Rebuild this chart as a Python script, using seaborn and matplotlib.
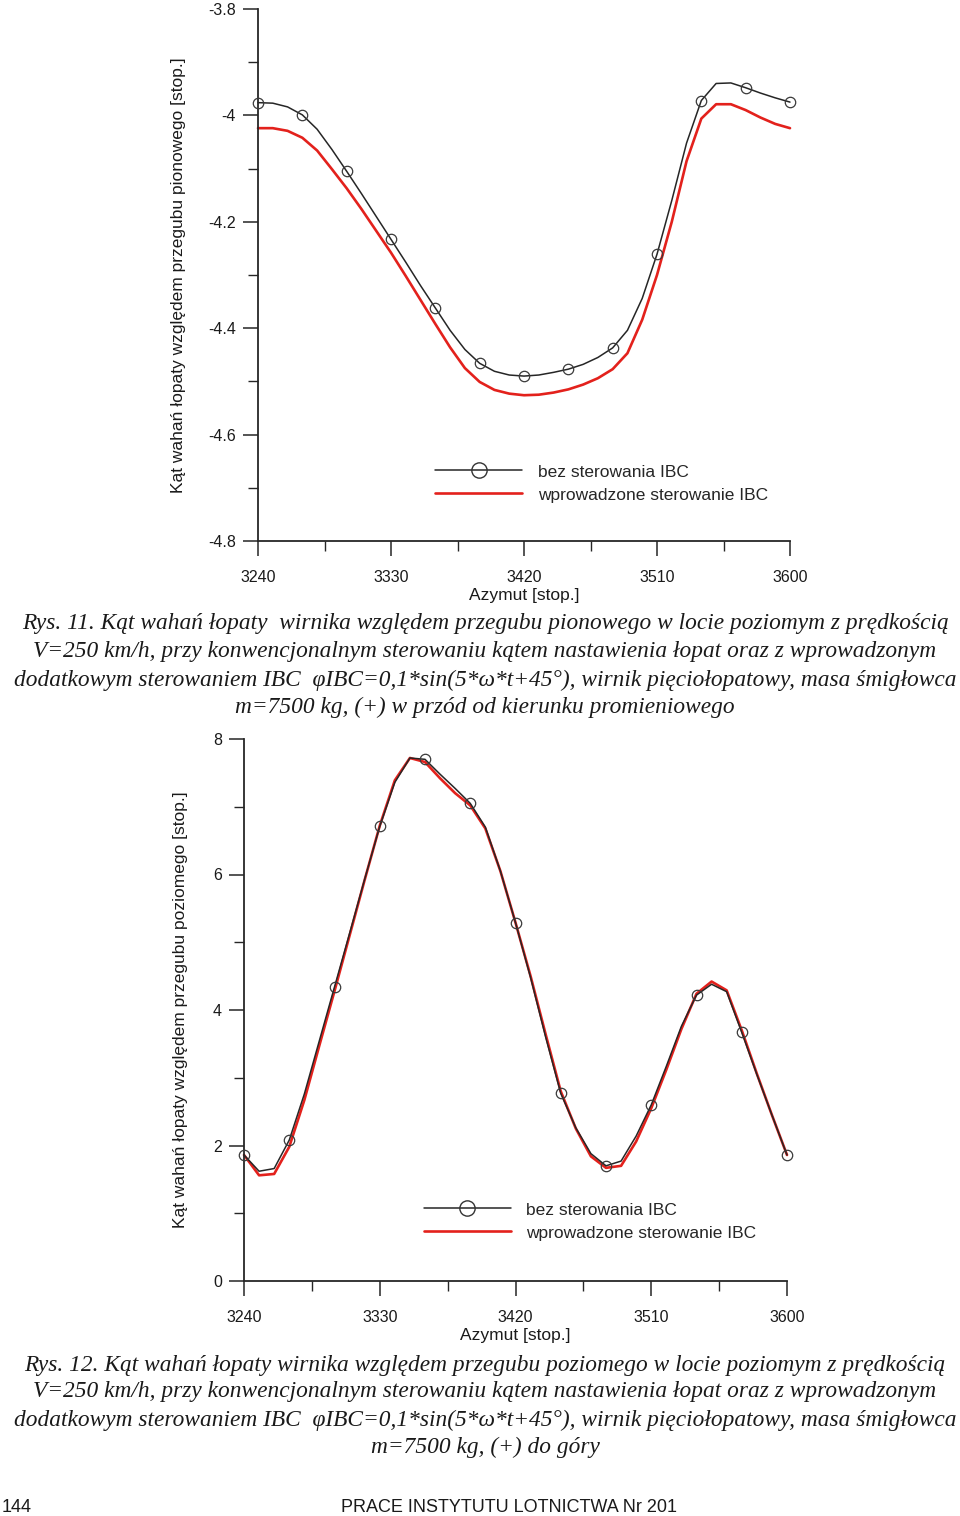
import matplotlib
matplotlib.use("Agg")
import matplotlib.pyplot as plt
from matplotlib.lines import Line2D
from matplotlib.ticker import MultipleLocator, FuncFormatter
import seaborn as sns
import pandas as pd

# ---------------- data ----------------
azimuth = list(range(3240, 3601, 10))

# Fig. 11 - lead-lag angle (vertical hinge)
lag_no_ibc = [-3.976, -3.977, -3.984, -3.999, -4.026, -4.064, -4.105, -4.147, -4.190, -4.233,
              -4.276, -4.320, -4.362, -4.404, -4.440, -4.466, -4.481, -4.488, -4.490, -4.488,
              -4.483, -4.477, -4.468, -4.455, -4.437, -4.404, -4.344, -4.261, -4.160, -4.052,
              -3.972, -3.940, -3.939, -3.948, -3.958, -3.967, -3.975]
lag_ibc = [-4.024, -4.024, -4.029, -4.042, -4.066, -4.101, -4.137, -4.176, -4.217, -4.258,
           -4.302, -4.347, -4.392, -4.436, -4.475, -4.501, -4.516, -4.523, -4.526, -4.525,
           -4.521, -4.515, -4.506, -4.494, -4.477, -4.447, -4.384, -4.300, -4.200, -4.086,
           -4.006, -3.979, -3.979, -3.990, -4.004, -4.016, -4.024]

# Fig. 12 - flapping angle (horizontal hinge)
flap_no_ibc = [1.86, 1.62, 1.66, 2.08, 2.76, 3.55, 4.34, 5.13, 5.93, 6.71,
               7.36, 7.72, 7.70, 7.48, 7.27, 7.05, 6.70, 6.05, 5.29, 4.48,
               3.60, 2.77, 2.26, 1.88, 1.70, 1.77, 2.14, 2.60, 3.17, 3.76,
               4.22, 4.38, 4.27, 3.67, 3.05, 2.45, 1.86]
flap_ibc = [1.86, 1.56, 1.58, 1.98, 2.67, 3.48, 4.28, 5.10, 5.92, 6.72,
            7.39, 7.72, 7.66, 7.42, 7.20, 7.02, 6.68, 6.05, 5.29, 4.50,
            3.64, 2.80, 2.25, 1.84, 1.67, 1.70, 2.06, 2.55, 3.12, 3.72,
            4.24, 4.42, 4.29, 3.70, 3.06, 2.45, 1.86]

xticks = [3240, 3330, 3420, 3510, 3600]
yticks_top = [-3.8, -4.0, -4.2, -4.4, -4.6, -4.8]
yticks_bot = [0, 2, 4, 6, 8]

legend_labels = ["bez sterowania IBC", "wprowadzone sterowanie IBC"]
xlabel = "Azymut [stop.]"
ylabel_top = "Kąt wahań łopaty względem przegubu pionowego [stop.]"
ylabel_bot = "Kąt wahań łopaty względem przegubu poziomego [stop.]"

caption1 = [
    "Rys. 11. Kąt wahań łopaty  wirnika względem przegubu pionowego w locie poziomym z prędkością",
    "V=250 km/h, przy konwencjonalnym sterowaniu kątem nastawienia łopat oraz z wprowadzonym",
    "dodatkowym sterowaniem IBC  φIBC=0,1*sin(5*ω*t+45°), wirnik pięciołopatowy, masa śmigłowca",
    "m=7500 kg, (+) w przód od kierunku promieniowego",
]
caption2 = [
    "Rys. 12. Kąt wahań łopaty wirnika względem przegubu poziomego w locie poziomym z prędkością",
    "V=250 km/h, przy konwencjonalnym sterowaniu kątem nastawienia łopat oraz z wprowadzonym",
    "dodatkowym sterowaniem IBC  φIBC=0,1*sin(5*ω*t+45°), wirnik pięciołopatowy, masa śmigłowca",
    "m=7500 kg, (+) do góry",
]
footer_page = "144"
footer_title = "PRACE INSTYTUTU LOTNICTWA Nr 201"

# ---------------- style ----------------
sns.set_theme(style="ticks")
plt.rcParams["font.family"] = ["Liberation Sans", "DejaVu Sans"]
plt.rcParams["axes.unicode_minus"] = False

W, H = 960, 1516
fig = plt.figure(figsize=(W / 100, H / 100), dpi=100)
fig.patch.set_facecolor("white")

BLACK = "#262626"
RED = "#e3211c"
TXT = "#1a1a1a"


def px_axes(x0, x1, ytop, ybot):
    return fig.add_axes([x0 / W, 1 - ybot / H, (x1 - x0) / W, (ybot - ytop) / H])


def style_axes(ax, ymin, ymax, yticks, yminor, ylabel, ylab_x, xlab_y, leg_xy):
    ax.set_xlim(3240, 3600)
    ax.set_ylim(ymin, ymax)
    ax.set_xticks(xticks)
    ax.set_yticks(yticks)
    ax.xaxis.set_minor_locator(MultipleLocator(45))
    ax.yaxis.set_minor_locator(MultipleLocator(yminor))
    ax.yaxis.set_major_formatter(FuncFormatter(lambda v, p: f"{v:g}"))
    for s in ["top", "right"]:
        ax.spines[s].set_visible(False)
    for s in ["left", "bottom"]:
        ax.spines[s].set_color(BLACK)
        ax.spines[s].set_linewidth(1.3)
    ax.tick_params(which="major", direction="out", length=11, width=1.1,
                   color=BLACK, labelsize=11.5, labelcolor=TXT)
    ax.tick_params(axis="x", which="major", pad=10)
    ax.tick_params(axis="y", which="major", pad=5)
    ax.tick_params(which="minor", direction="out", length=7, width=1.0, color=BLACK)
    ax.set_xlabel(xlabel, fontsize=12.5, color=TXT)
    ax.set_ylabel(ylabel, fontsize=12.5, color=TXT)
    ax.yaxis.set_label_coords(ylab_x, 0.5)
    ax.xaxis.set_label_coords(0.5, xlab_y)
    ax.set_facecolor("white")
    handles = [
        Line2D([], [], color=BLACK, lw=1.1, marker="o", mfc="none", mec="#333333",
               mew=1.0, ms=11),
        Line2D([], [], color=RED, lw=1.9),
    ]
    ax.legend(handles, legend_labels, loc="upper left", bbox_to_anchor=leg_xy,
              frameon=False, fontsize=12.5, handlelength=5.0, handletextpad=0.9,
              labelspacing=0.45, borderpad=0, borderaxespad=0)


def draw(ax, y_black, y_red):
    df = pd.DataFrame({"az": azimuth, "black": y_black, "red": y_red})
    sns.lineplot(data=df, x="az", y="red", ax=ax, color=RED, lw=1.9,
                 estimator=None, sort=False, clip_on=False, zorder=2)
    sns.lineplot(data=df, x="az", y="black", ax=ax, color=BLACK, lw=1.1,
                 estimator=None, sort=False, marker="o", markevery=3, ms=7.5,
                 mfc="none", mec="#3a3a3a", mew=0.9, clip_on=False, zorder=3)


# top chart (Rys. 11)
ax1 = px_axes(258, 790, 9, 541)
draw(ax1, lag_no_ibc, lag_ibc)
style_axes(ax1, -4.8, -3.8, yticks_top, 0.1, ylabel_top, -0.135, -0.088,
           (0.333, 0.144))

# bottom chart (Rys. 12)
ax2 = px_axes(244, 787, 739, 1281)
draw(ax2, flap_no_ibc, flap_ibc)
style_axes(ax2, 0, 8, yticks_bot, 1, ylabel_bot, -0.103, -0.086,
           (0.3315, 0.145))

# ---------------- captions ----------------
cap_font = ["Liberation Serif", "DejaVu Serif"]
renderer = fig.canvas.get_renderer()
widths = []
for line in caption1 + caption2:
    probe = fig.text(0, 0, line, fontsize=20, style="italic", family=cap_font)
    widths.append(probe.get_window_extent(renderer).width)
    probe.remove()
cap_size = 20 * 940 / max(widths)


def caption(lines, ys):
    for line, y in zip(lines, ys):
        fig.text(485 / W, 1 - y / H, line, ha="center", va="center", fontsize=cap_size,
                 style="italic", family=cap_font, color=TXT)


caption(caption1, [624, 652, 680, 707])
caption(caption2, [1365, 1392, 1420, 1447])

fig.text(2 / W, 1 - 1507 / H, footer_page, ha="left", va="center", fontsize=13, color=TXT)
fig.text(509 / W, 1 - 1507 / H, footer_title, ha="center", va="center", fontsize=13,
         color=TXT)

fig.savefig("out.png", dpi=100, facecolor="white")
